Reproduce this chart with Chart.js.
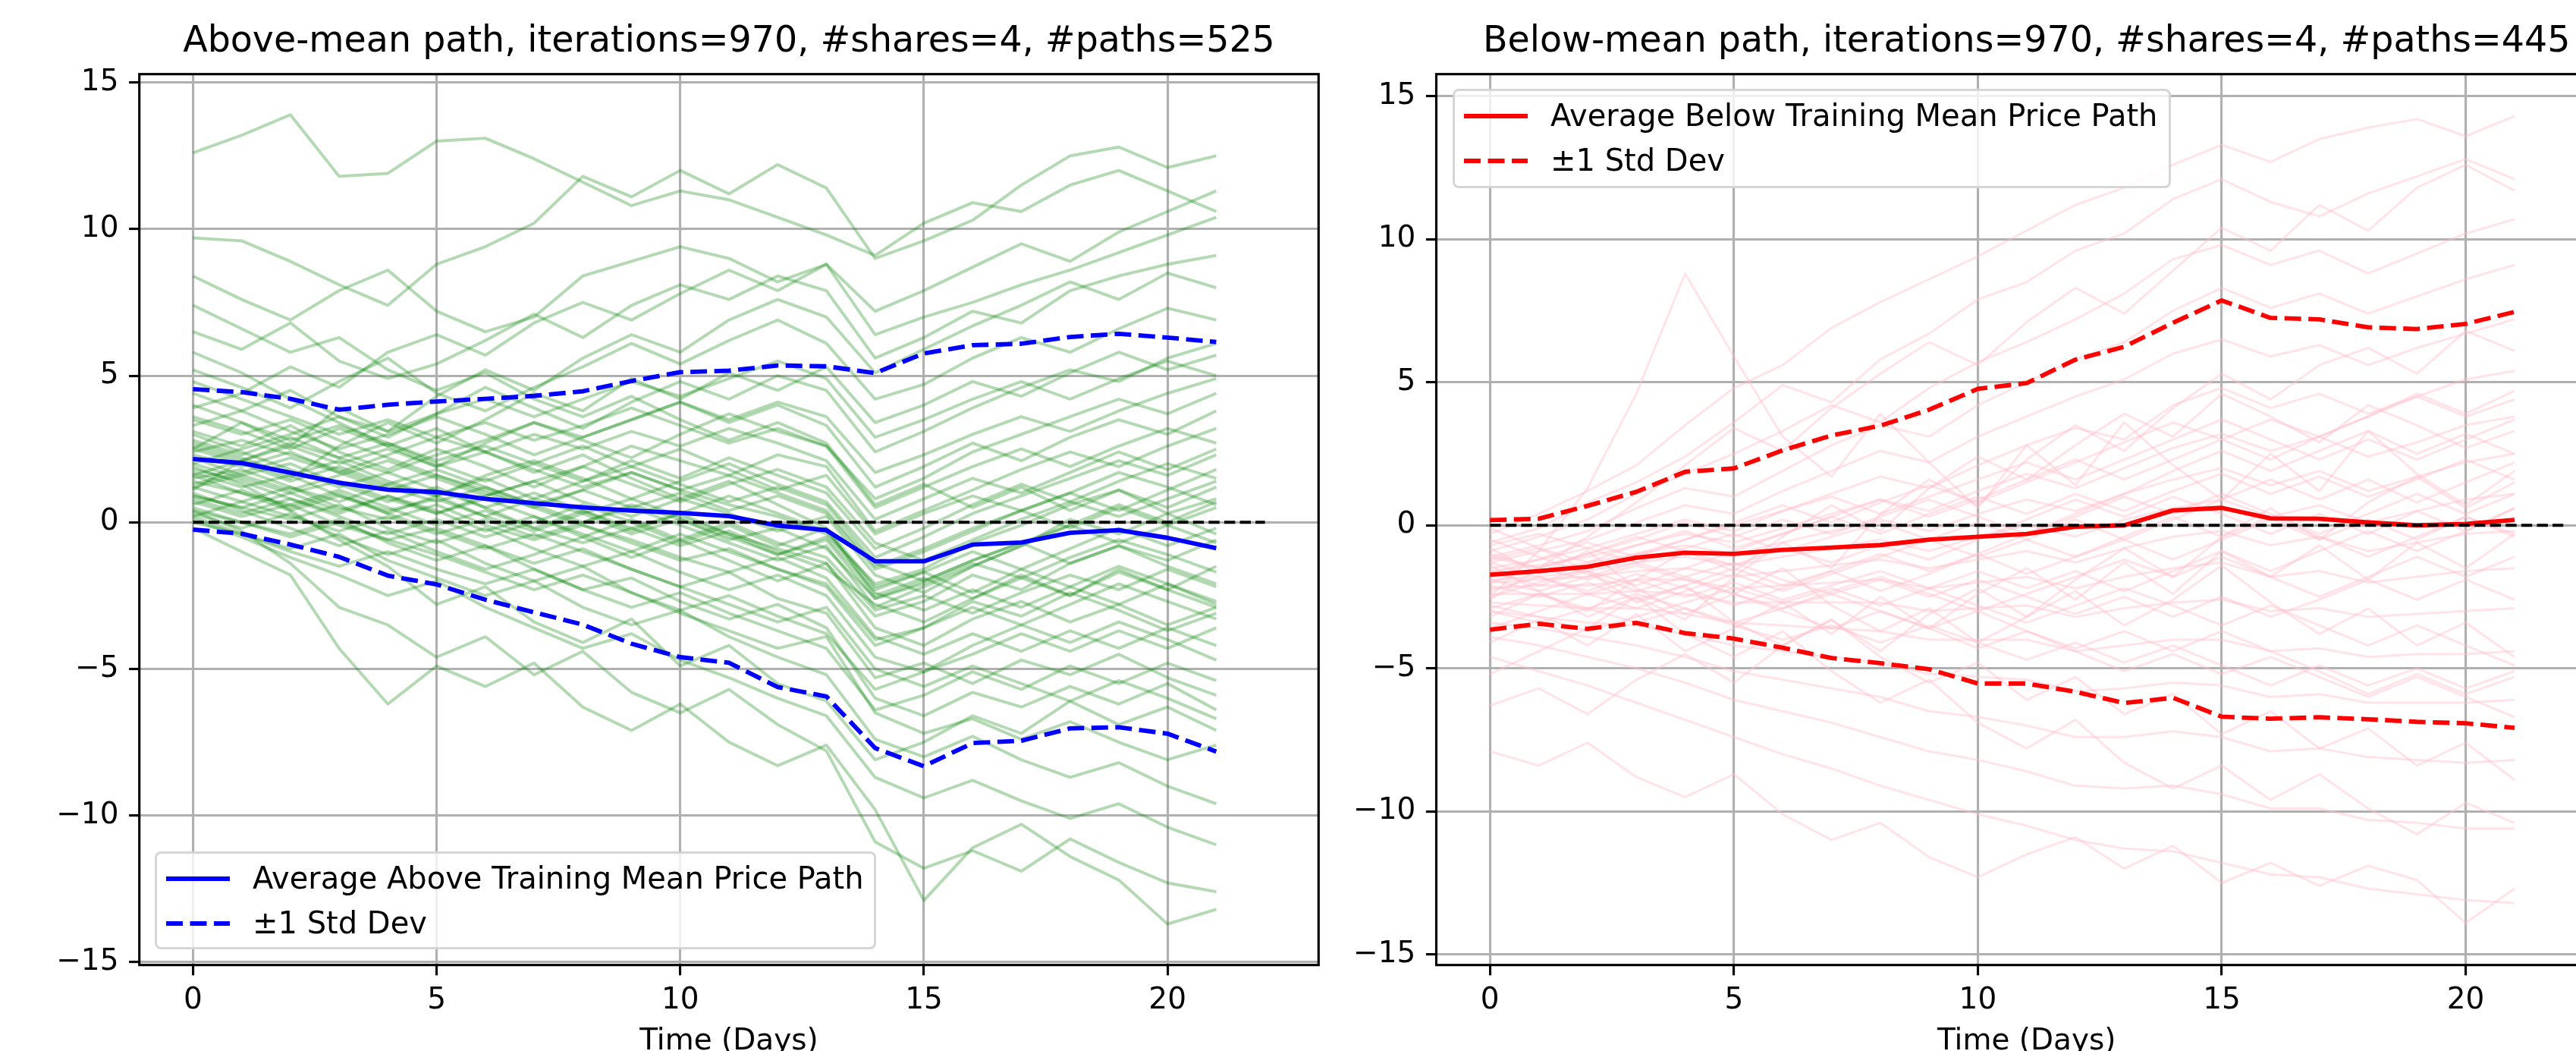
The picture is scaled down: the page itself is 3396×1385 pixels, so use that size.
<!DOCTYPE html>
<html>
<head>
<meta charset="utf-8">
<script src="https://cdn.jsdelivr.net/npm/chart.js@4.4.1/dist/chart.umd.min.js"></script>
<style>
  html, body { margin: 0; padding: 0; width: 3396px; height: 1385px; overflow: hidden; background: #fff; }
  canvas { position: absolute; top: 0; }
  #above { left: 0; }
  #below { left: 1770px; }
  .legend {
    position: absolute; box-sizing: border-box;
    border: 3.5px solid rgba(204, 204, 204, 0.8); border-radius: 8px;
    background: rgba(255, 255, 255, 0.8);
    font-family: "DejaVu Sans"; font-size: 40px; color: #000;
  }
  .legend svg { position: absolute; left: 11px; }
  .legend span { position: absolute; left: 126px; line-height: 47px; white-space: nowrap; }
</style>
</head>
<body>
<canvas id="above" width="1775" height="1440"></canvas>
<canvas id="below" width="1730" height="1440"></canvas>
<div id="aboveLegend" class="legend" style="left:204px; top:1122px; width:951px; height:129px;"></div>
<div id="belowLegend" class="legend" style="left:1915px; top:117px; width:947px; height:131px;"></div>
<script>
// time axis, days 0..21
const days = [0, 1, 2, 3, 4, 5, 6, 7, 8, 9, 10, 11, 12, 13, 14, 15, 16, 17, 18, 19, 20, 21];
const zeroLineX = [0, 22];

// above-mean panel: average path and +/- 1 std dev
const aboveMean = [2.16, 2.02, 1.69, 1.35, 1.11, 1.03, 0.80, 0.65, 0.51, 0.40, 0.32, 0.21, -0.11, -0.27, -1.33, -1.33, -0.76, -0.69, -0.36, -0.27, -0.53, -0.88];
const aboveUpper = [4.54, 4.44, 4.21, 3.84, 4.01, 4.12, 4.21, 4.31, 4.47, 4.82, 5.12, 5.17, 5.35, 5.32, 5.09, 5.76, 6.04, 6.09, 6.32, 6.43, 6.30, 6.15];
const aboveLower = [-0.25, -0.39, -0.76, -1.18, -1.82, -2.12, -2.64, -3.07, -3.49, -4.14, -4.60, -4.79, -5.62, -5.94, -7.70, -8.32, -7.53, -7.45, -7.03, -6.99, -7.21, -7.82];

// below-mean panel
const belowMean = [-1.73, -1.60, -1.45, -1.13, -0.96, -1.00, -0.86, -0.78, -0.69, -0.50, -0.40, -0.30, -0.05, 0.00, 0.52, 0.61, 0.24, 0.23, 0.10, 0.00, 0.05, 0.19];
const belowUpper = [0.18, 0.23, 0.68, 1.17, 1.87, 1.99, 2.62, 3.14, 3.48, 4.04, 4.77, 4.97, 5.79, 6.24, 7.08, 7.86, 7.25, 7.20, 6.92, 6.86, 7.04, 7.46];
const belowLower = [-3.65, -3.44, -3.62, -3.41, -3.77, -3.96, -4.28, -4.64, -4.82, -5.03, -5.53, -5.53, -5.82, -6.21, -6.03, -6.69, -6.76, -6.71, -6.78, -6.87, -6.92, -7.08];

// a sample of the individual simulated paths
const abovePaths = [
  [12.6, 13.2, 13.9, 11.8, 11.9, 13.0, 13.1, 12.4, 11.6, 10.8, 11.3, 11.0, 10.4, 9.8, 9.1, 10.2, 10.9, 10.6, 11.5, 12.0, 11.3, 10.6],
  [9.7, 9.6, 8.9, 8.1, 7.4, 8.8, 9.4, 10.2, 11.8, 11.1, 12.0, 11.2, 12.2, 11.4, 9.0, 9.6, 10.3, 11.5, 12.5, 12.8, 12.1, 12.5],
  [8.4, 7.6, 6.9, 7.9, 8.6, 7.2, 6.5, 7.0, 8.4, 8.9, 9.4, 9.0, 8.2, 8.8, 6.4, 7.0, 7.5, 8.1, 8.6, 9.2, 9.8, 10.4],
  [6.5, 5.9, 6.8, 5.5, 4.9, 5.4, 6.2, 7.1, 6.3, 7.4, 8.1, 7.6, 8.4, 7.9, 5.6, 6.3, 7.2, 6.8, 7.9, 8.4, 8.8, 9.1],
  [5.2, 4.6, 3.9, 4.8, 5.6, 4.4, 3.8, 4.6, 5.3, 6.1, 5.4, 6.2, 6.9, 6.1, 4.2, 4.7, 5.6, 6.3, 5.8, 6.6, 7.3, 6.9],
  [4.4, 3.8, 4.5, 3.6, 2.9, 3.7, 4.6, 3.9, 3.2, 4.1, 4.8, 4.2, 5.0, 4.5, 2.4, 3.1, 3.9, 4.6, 5.2, 4.8, 5.6, 6.1],
  [3.6, 3.1, 2.5, 3.2, 2.6, 1.9, 2.7, 3.4, 2.8, 2.2, 3.0, 3.7, 3.1, 2.6, 0.8, 1.5, 2.4, 3.0, 3.6, 4.2, 3.7, 4.4],
  [3.1, 2.6, 3.3, 2.4, 1.8, 2.5, 1.9, 1.2, 1.9, 2.6, 2.1, 1.6, 2.3, 1.9, -0.3, 0.4, 1.1, 1.8, 2.4, 1.9, 2.6, 3.2],
  [2.7, 2.2, 1.6, 2.1, 1.4, 0.9, 1.6, 2.1, 1.5, 0.8, 1.4, 2.0, 1.3, 0.7, -1.2, -0.5, 0.3, 0.9, 1.5, 2.1, 1.6, 2.3],
  [2.3, 1.9, 2.4, 1.7, 1.1, 1.6, 1.0, 0.5, 1.1, 1.7, 1.1, 0.6, 0.2, -0.4, -2.1, -1.6, -0.7, -0.1, 0.6, 1.1, 0.5, 1.2],
  [2.0, 1.5, 1.0, 1.4, 0.8, 0.3, 0.9, 1.4, 0.7, 0.2, 0.8, 0.3, -0.3, 0.2, -1.8, -2.4, -1.5, -0.8, 0.1, -0.4, 0.3, 0.8],
  [1.7, 1.2, 1.6, 0.9, 0.4, 0.8, 0.2, -0.3, 0.3, 0.8, 0.2, -0.4, -0.9, -1.4, -3.2, -2.7, -1.8, -2.3, -1.4, -0.8, -1.3, -0.6],
  [1.4, 1.0, 0.6, 1.1, 0.5, -0.1, 0.4, -0.2, -0.7, -0.2, -0.8, -0.3, -1.0, -1.6, -2.8, -3.4, -2.6, -1.9, -2.5, -1.7, -2.3, -2.9],
  [1.2, 0.7, 1.2, 0.5, 0.1, 0.6, -0.1, -0.6, -0.1, -0.7, -1.3, -0.9, -1.6, -2.1, -4.0, -3.6, -2.7, -3.2, -2.4, -3.0, -3.7, -3.1],
  [0.9, 0.5, 0.1, 0.6, -0.2, -0.7, -0.2, -0.9, -1.5, -1.0, -1.7, -2.3, -1.8, -2.5, -4.6, -5.1, -4.2, -3.5, -4.1, -3.4, -4.0, -4.7],
  [0.7, 0.2, 0.6, -0.1, -0.6, -0.2, -0.8, -1.4, -0.9, -1.6, -2.2, -1.7, -2.6, -3.1, -5.3, -4.8, -5.5, -4.7, -5.2, -4.5, -5.3, -5.9],
  [0.5, 0.0, -0.4, 0.1, -0.7, -1.3, -0.8, -1.6, -2.3, -1.9, -2.7, -3.3, -2.8, -3.6, -6.0, -6.6, -5.8, -6.3, -5.6, -6.2, -5.5, -6.4],
  [0.3, -0.2, 0.3, -0.5, -1.1, -0.6, -1.4, -2.0, -1.5, -2.4, -3.1, -3.7, -4.3, -3.9, -6.5, -7.2, -6.7, -7.4, -6.8, -7.5, -8.1, -7.6],
  [0.2, -0.4, -0.9, -0.4, -1.3, -1.9, -2.5, -2.0, -2.9, -3.5, -3.0, -3.9, -4.6, -5.2, -7.4, -8.0, -7.3, -8.1, -8.7, -8.2, -9.0, -9.6],
  [0.1, -0.5, -1.2, -1.8, -2.5, -2.0, -2.9, -3.6, -4.3, -3.8, -4.7, -5.3, -6.0, -6.6, -8.7, -9.4, -8.8, -9.5, -10.1, -9.6, -10.4, -11.0],
  [-0.2, -1.0, -1.8, -4.3, -6.2, -4.9, -5.6, -4.8, -6.3, -7.1, -6.2, -7.5, -8.3, -7.6, -9.8, -12.9, -11.1, -10.3, -11.4, -12.2, -13.7, -13.2],
  [0.4, -0.3, -1.4, -2.9, -3.5, -4.6, -3.9, -5.2, -4.4, -5.8, -6.5, -5.7, -6.9, -7.8, -10.9, -11.8, -11.2, -11.9, -10.8, -11.6, -12.3, -12.6],
  [1.9, 1.3, 0.4, -0.6, -1.5, -2.8, -2.2, -3.4, -4.1, -3.3, -4.9, -4.2, -5.5, -6.1, -8.1, -7.5, -6.6, -7.2, -6.1, -6.9, -6.3, -7.1],
  [2.5, 3.4, 2.6, 3.9, 3.1, 4.3, 5.2, 4.5, 5.6, 6.4, 5.8, 6.9, 7.6, 7.0, 5.1, 5.9, 6.7, 7.4, 8.2, 7.6, 8.5, 8.0],
  [1.1, 2.1, 1.5, 2.6, 3.4, 2.7, 3.5, 4.4, 3.8, 4.9, 4.2, 5.1, 4.5, 5.3, 3.4, 4.0, 4.8, 4.3, 5.1, 5.8, 5.2, 5.7],
  [3.9, 4.4, 5.3, 4.6, 5.8, 6.4, 5.7, 6.8, 7.5, 6.9, 7.8, 8.6, 7.9, 8.8, 7.2, 7.9, 8.7, 9.5, 8.9, 9.9, 10.6, 11.3],
  [7.4, 6.6, 5.8, 6.3, 5.2, 4.5, 5.1, 4.2, 3.6, 4.3, 3.5, 2.8, 3.4, 2.7, 0.6, 1.3, 0.5, 1.2, 0.4, 1.1, 0.3, -0.4],
  [5.8, 5.1, 4.2, 3.4, 2.6, 3.2, 2.4, 1.7, 2.3, 1.5, 0.8, 1.4, 0.6, -0.2, -2.5, -1.9, -2.6, -1.8, -2.5, -1.6, -2.3, -1.5],
  [1.5, 1.8, 1.2, 0.7, 1.3, 0.9, 0.2, 0.8, 0.3, -0.4, 0.1, -0.6, -0.2, -0.9, -2.6, -2.1, -1.4, -1.9, -1.2, -0.6, -1.1, -1.7],
  [2.8, 2.3, 2.9, 2.2, 2.7, 2.0, 1.4, 2.0, 2.6, 1.9, 2.5, 1.8, 1.1, 1.6, -0.4, 0.3, 0.9, 0.4, 1.0, 1.7, 1.2, 0.6],
  [0.6, 1.1, 0.5, 1.0, 0.3, 0.9, 1.5, 0.8, 1.4, 2.1, 1.5, 2.2, 1.6, 1.0, -0.9, -0.2, 0.6, 1.3, 0.7, 1.4, 2.0, 1.5],
  [1.0, 0.4, -0.2, -0.8, -0.3, -1.0, -1.6, -1.1, -0.5, -1.2, -0.6, -1.3, -2.0, -1.4, -3.6, -4.2, -3.3, -2.7, -3.4, -2.8, -2.1, -2.7],
  [3.3, 3.8, 3.1, 2.5, 3.0, 3.6, 3.0, 2.3, 2.9, 3.5, 4.1, 3.4, 4.0, 3.3, 1.2, 1.9, 2.7, 2.1, 2.9, 3.5, 3.0, 3.8],
  [1.8, 1.4, 0.8, 0.3, 0.9, 0.4, -0.3, 0.2, -0.5, 0.1, -0.6, 0.0, -0.7, -1.2, -3.0, -2.5, -3.1, -2.4, -1.8, -2.3, -1.6, -2.2],
  [2.5, 2.0, 1.4, 1.9, 1.3, 1.8, 1.2, 0.6, 1.1, 0.5, 1.0, 0.4, 0.9, 0.3, -1.6, -1.0, -0.3, 0.4, -0.2, 0.5, -0.1, -0.7],
  [0.8, 0.3, 0.8, 0.2, -0.4, 0.1, -0.5, 0.0, 0.6, 0.0, -0.7, -0.1, -0.8, -0.2, -2.2, -1.7, -2.4, -1.6, -2.2, -1.5, -2.1, -2.8],
  [4.0, 3.4, 2.8, 3.3, 2.7, 2.1, 2.6, 2.0, 1.4, 1.9, 1.3, 0.7, 1.2, 0.6, -1.4, -2.0, -1.3, -0.7, -1.4, -0.8, -1.5, -2.1],
  [1.3, 1.7, 2.2, 1.7, 2.3, 2.9, 2.4, 3.0, 2.5, 3.1, 2.6, 3.2, 2.7, 2.1, 0.1, 0.8, 1.5, 1.0, 1.7, 2.4, 1.8, 2.5],
  [2.2, 1.6, 2.0, 1.3, 0.7, 1.2, 0.5, -0.2, 0.4, -0.3, 0.3, -0.4, -1.1, -0.5, -2.4, -3.0, -2.3, -2.9, -2.2, -2.8, -3.5, -2.9],
  [0.0, -0.4, -1.0, -1.5, -1.0, -1.6, -2.1, -1.6, -2.3, -2.9, -2.4, -3.1, -3.7, -4.3, -6.4, -5.9, -5.1, -5.7, -4.9, -5.5, -4.8, -5.4],
  [3.0, 2.4, 1.8, 1.2, 1.7, 1.1, 0.5, 1.0, 0.4, -0.2, 0.3, 0.9, 0.3, -0.3, -2.3, -1.7, -1.0, -1.6, -0.9, -0.2, -0.8, -0.2],
  [1.6, 2.1, 2.7, 2.2, 1.7, 2.3, 2.8, 3.4, 2.9, 3.5, 4.1, 3.5, 4.1, 3.6, 1.7, 2.3, 3.0, 3.6, 3.1, 3.8, 4.4, 4.9],
  [2.4, 2.8, 2.3, 1.8, 1.2, 0.7, 1.2, 0.6, 0.0, 0.5, -0.1, -0.7, -1.3, -0.8, -2.9, -2.2, -1.5, -0.8, -0.1, 0.6, 0.0, 0.7],
  [0.4, 0.0, -0.5, 0.0, -0.6, -1.1, -1.7, -2.3, -1.8, -2.4, -3.0, -2.5, -3.2, -3.8, -5.7, -5.1, -4.5, -3.8, -4.4, -3.7, -4.3, -3.6],
  [1.2, 1.6, 1.1, 1.6, 2.1, 1.5, 0.9, 1.4, 1.9, 1.3, 0.7, 1.3, 1.8, 1.2, -0.7, -1.3, -0.6, 0.1, 0.7, 0.2, 0.8, 1.4],
  [3.5, 3.0, 3.5, 2.8, 2.2, 1.6, 1.1, 0.5, -0.1, -0.6, -1.2, -1.7, -1.2, -1.9, -3.9, -4.5, -3.8, -4.4, -3.7, -4.3, -3.6, -4.2],
  [2.0, 2.5, 3.0, 3.6, 3.1, 3.7, 4.2, 3.6, 4.2, 4.8, 4.3, 4.9, 5.5, 4.9, 2.9, 3.5, 4.2, 4.8, 4.2, 4.9, 5.5, 5.0],
  [0.9, 0.5, 1.0, 0.4, 0.9, 0.3, 0.8, 0.2, -0.4, -1.0, -0.4, -1.0, -1.6, -2.2, -4.2, -3.6, -2.9, -3.5, -2.8, -2.1, -2.7, -3.3],
  [4.8, 4.2, 3.6, 3.0, 3.5, 2.9, 3.4, 2.8, 3.3, 3.9, 3.3, 2.7, 3.2, 2.6, 0.5, 1.2, 1.9, 2.5, 1.9, 2.6, 3.2, 2.7],
  [1.6, 1.0, 0.4, 0.9, 0.3, -0.3, -0.9, -0.4, -1.0, -1.6, -2.2, -2.8, -3.4, -2.9, -5.0, -5.6, -4.9, -5.5, -6.1, -5.4, -6.0, -6.7],
  [2.6, 2.1, 2.6, 2.0, 2.5, 1.9, 2.4, 1.8, 1.2, 1.7, 1.1, 1.6, 1.0, 0.4, -1.5, -0.9, -0.2, 0.4, 1.0, 0.4, 1.1, 1.8],
  [0.2, 0.7, 0.2, -0.3, 0.2, -0.4, 0.1, -0.5, 0.0, 0.6, 0.1, -0.5, -1.1, -0.6, -2.6, -2.0, -1.3, -0.7, -0.1, -0.7, -0.1, 0.5]
];

const belowPaths = [
  [-0.3, 0.4, 1.2, 2.1, 3.5, 4.8, 5.6, 6.9, 7.8, 8.6, 9.4, 10.3, 11.2, 11.8, 12.6, 13.3, 12.7, 13.5, 13.9, 14.2, 13.6, 14.3],
  [-0.6, -0.1, 0.8, 1.5, 2.4, 3.6, 4.9, 4.3, 5.8, 6.7, 7.9, 8.5, 9.6, 10.2, 11.4, 12.1, 11.3, 10.8, 11.6, 12.2, 12.8, 12.1],
  [-0.9, -0.4, 0.2, 1.1, 1.8, 2.5, 3.3, 4.2, 3.6, 4.8, 5.7, 6.4, 7.2, 8.1, 9.3, 9.8, 9.1, 9.6, 8.8, 9.5, 10.2, 10.7],
  [-1.1, -0.7, -0.2, 0.6, 1.3, 1.0, 1.9, 2.8, 3.5, 3.1, 4.2, 5.0, 5.8, 6.4, 7.5, 8.3, 7.6, 8.1, 7.4, 8.0, 8.6, 9.1],
  [-1.3, -0.9, -0.5, 0.1, 0.7, 0.4, 1.2, 1.9, 2.6, 2.2, 3.1, 3.8, 4.5, 5.1, 6.0, 6.5, 5.9, 6.3, 5.6, 6.2, 6.7, 7.2],
  [-1.5, -1.2, -0.8, -0.3, 0.2, -0.2, 0.5, 1.1, 1.7, 1.3, 2.1, 2.8, 3.4, 3.0, 4.2, 4.8, 4.1, 4.6, 3.9, 4.5, 5.1, 5.4],
  [-1.6, -1.4, -1.1, -0.7, -0.3, -0.6, -0.1, 0.4, 0.9, 0.5, 1.2, 1.8, 1.3, 2.0, 2.7, 3.2, 2.6, 3.1, 2.4, 2.9, 3.5, 3.8],
  [-1.8, -1.6, -1.3, -1.0, -0.7, -1.0, -0.6, -0.2, 0.2, -0.2, 0.4, 0.9, 0.5, 1.1, 1.6, 2.0, 1.4, 1.9, 1.2, 1.7, 2.2, 2.5],
  [-1.9, -1.8, -1.6, -1.3, -1.1, -1.4, -1.1, -0.8, -0.5, -0.9, -0.4, 0.0, -0.4, 0.2, 0.6, 0.9, 0.3, 0.7, 0.1, 0.5, 0.9, 1.1],
  [-2.0, -1.9, -1.8, -1.6, -1.5, -1.8, -1.6, -1.4, -1.2, -1.5, -1.2, -0.9, -1.3, -0.8, -0.4, -0.2, -0.7, -0.4, -0.9, -0.6, -0.3, -0.2],
  [-2.2, -2.1, -2.1, -1.9, -1.9, -2.2, -2.1, -2.0, -1.9, -2.2, -2.0, -1.8, -2.2, -1.8, -1.5, -1.3, -1.8, -1.6, -2.0, -1.8, -1.6, -1.5],
  [-2.4, -2.4, -2.4, -2.3, -2.4, -2.7, -2.7, -2.7, -2.7, -3.0, -2.9, -2.8, -3.2, -2.9, -2.7, -2.6, -3.0, -2.9, -3.2, -3.1, -3.0, -2.9],
  [-2.7, -2.8, -2.9, -2.9, -3.1, -3.4, -3.5, -3.6, -3.7, -4.0, -4.0, -4.0, -4.4, -4.2, -4.0, -4.0, -4.4, -4.3, -4.6, -4.5, -4.5, -4.4],
  [-3.0, -3.2, -3.4, -3.5, -3.8, -4.2, -4.4, -4.6, -4.8, -5.2, -5.3, -5.4, -5.8, -5.7, -5.5, -5.6, -6.0, -5.9, -6.2, -6.2, -6.2, -6.1],
  [-3.4, -3.6, -3.9, -4.2, -4.6, -5.1, -5.4, -5.7, -6.0, -6.5, -6.7, -7.0, -7.4, -7.4, -7.2, -7.4, -7.9, -7.8, -8.1, -8.2, -8.3, -8.2],
  [-3.9, -4.2, -4.6, -5.0, -5.5, -6.1, -6.5, -6.9, -7.4, -7.9, -8.2, -8.6, -9.1, -9.2, -9.1, -9.4, -9.9, -9.9, -10.3, -10.4, -10.6, -10.6],
  [-4.6, -5.1, -5.6, -6.2, -6.8, -7.4, -8.0, -8.5, -9.1, -9.6, -10.1, -10.5, -11.0, -11.3, -11.4, -11.8, -12.2, -12.3, -12.7, -12.9, -13.1, -13.2],
  [-7.9, -8.4, -7.6, -8.8, -9.5, -8.7, -10.1, -11.0, -10.4, -11.6, -12.3, -11.5, -10.9, -12.0, -11.2, -12.5, -11.8, -12.6, -11.9, -12.4, -13.9, -12.7],
  [-5.2, -4.4, -3.6, -2.5, -3.3, -1.8, -0.6, -1.5, 0.4, 1.6, 0.7, 2.3, 3.5, 2.6, 4.1, 5.3, 4.4, 5.6, 6.2, 5.3, 6.8, 6.1],
  [-0.1, -0.8, -1.6, -2.7, -2.1, -3.4, -4.2, -3.3, -4.6, -5.5, -4.8, -6.1, -5.3, -6.6, -5.9, -7.3, -6.5, -7.8, -7.1, -8.4, -7.6, -8.9],
  [-3.2, -2.4, -3.0, -1.9, -0.9, -1.6, -0.4, 0.7, -0.2, 1.3, 2.4, 1.6, 2.8, 3.9, 3.1, 4.6, 3.8, 2.9, 4.2, 3.5, 2.7, 3.3],
  [-0.8, -1.7, -0.9, -2.2, -3.1, -2.4, -1.5, -2.8, -3.7, -2.9, -4.1, -3.2, -2.3, -3.5, -2.6, -1.4, -2.7, -3.8, -2.9, -4.2, -3.4, -4.6],
  [-2.6, -1.5, -0.4, 0.8, 2.1, 3.4, 2.6, 4.1, 5.3, 6.4, 5.6, 7.1, 8.3, 7.4, 8.9, 10.4, 9.6, 11.2, 10.3, 11.8, 12.6, 11.7],
  [-4.1, -3.3, -4.2, -3.1, -4.4, -3.6, -2.7, -3.8, -2.5, -3.6, -2.4, -1.5, -2.6, -1.3, -2.4, -0.9, -1.8, -0.7, -1.9, -0.6, -1.5, -0.3],
  [-1.4, -2.3, -3.2, -2.5, -3.8, -4.6, -3.7, -5.1, -6.2, -5.4, -6.9, -7.8, -6.8, -8.3, -9.2, -8.4, -9.6, -8.7, -9.9, -10.8, -9.7, -10.4],
  [-6.3, -5.7, -6.6, -5.4, -4.5, -5.5, -4.2, -3.3, -4.4, -3.1, -2.2, -3.2, -1.9, -0.8, -1.8, -0.4, 0.6, -0.5, 0.8, 1.7, 0.6, 1.5],
  [-2.5, -0.9, 1.3, 4.6, 8.8, 5.9, 3.1, 1.7, 3.9, 2.2, 0.6, 2.8, 1.4, 3.6, 2.1, 0.9, 2.5, 1.2, 3.3, 1.8, 0.7, 1.9],
  [-1.2, -0.8, -1.3, -0.7, -0.2, -0.8, -0.3, 0.3, -0.3, 0.4, 1.0, 0.4, 1.1, 0.5, 1.2, 1.8, 1.1, 1.7, 1.0, 1.6, 2.3, 1.6],
  [-2.1, -2.5, -2.0, -2.6, -2.1, -1.5, -2.1, -1.6, -2.3, -1.7, -1.0, -1.7, -1.1, -0.4, 0.3, -0.4, 0.3, -0.4, -1.1, -0.4, 0.3, -0.3],
  [-1.7, -1.2, -0.6, -1.1, -0.5, 0.1, 0.7, 0.1, 0.8, 1.4, 0.8, 1.5, 2.2, 2.9, 3.6, 3.0, 3.7, 3.1, 3.8, 4.5, 3.8, 4.4],
  [-2.9, -2.4, -2.9, -3.4, -2.9, -3.5, -4.0, -3.5, -4.1, -3.5, -4.1, -4.7, -4.1, -4.8, -4.2, -4.9, -5.6, -4.9, -5.6, -5.0, -5.7, -5.1],
  [-1.0, -1.5, -1.0, -0.4, -0.9, -1.4, -0.8, -1.3, -0.7, -1.2, -0.5, 0.2, 0.9, 0.3, 1.0, 0.4, -0.3, 0.4, -0.3, 0.5, -0.2, 0.6],
  [-2.3, -1.8, -2.3, -1.7, -2.2, -2.8, -2.2, -1.6, -1.0, -1.6, -1.0, -0.3, 0.4, 1.1, 1.9, 2.6, 1.9, 2.6, 3.3, 2.5, 3.2, 2.5],
  [-0.5, -1.1, -1.7, -2.3, -1.8, -2.4, -3.0, -3.6, -3.0, -3.6, -4.3, -3.7, -4.4, -5.1, -4.5, -5.2, -4.6, -5.3, -6.0, -5.3, -6.0, -6.7],
  [-3.6, -3.0, -2.4, -2.9, -2.3, -1.7, -2.3, -1.7, -1.1, -0.5, -1.1, -0.5, 0.2, -0.5, 0.2, 0.9, 1.6, 0.9, 1.6, 0.8, 1.5, 2.2],
  [-1.9, -2.3, -1.8, -1.3, -1.8, -1.3, -1.9, -2.4, -1.9, -2.5, -1.9, -2.5, -3.1, -2.5, -3.2, -2.5, -3.2, -2.6, -1.9, -2.6, -1.9, -2.6],
  [-1.3, -1.8, -2.4, -1.9, -2.5, -2.0, -2.6, -2.1, -1.6, -2.2, -2.8, -3.4, -2.8, -2.2, -2.8, -3.5, -2.8, -3.5, -4.2, -3.5, -4.2, -4.9],
  [-2.5, -2.0, -1.5, -1.0, -0.5, 0.0, 0.5, 1.0, 0.4, 1.0, 1.6, 2.2, 1.6, 2.3, 3.0, 3.7, 3.0, 2.3, 3.0, 2.3, 3.0, 3.7],
  [-0.7, -0.3, -0.8, -1.3, -0.8, -0.3, -0.9, -0.4, 0.1, -0.5, 0.1, -0.5, -1.1, -0.5, -1.2, -0.5, 0.2, -0.5, 0.2, -0.5, 0.3, -0.4],
  [-3.0, -3.4, -2.9, -2.4, -2.9, -3.4, -2.9, -2.3, -1.8, -2.4, -3.0, -2.4, -1.8, -1.2, -1.8, -1.1, -1.8, -2.5, -1.8, -1.1, -1.8, -1.1],
  [-1.6, -2.1, -1.6, -2.1, -1.5, -0.9, -0.3, 0.3, 0.9, 0.3, 0.9, 1.6, 2.3, 1.6, 2.3, 3.0, 2.3, 3.1, 3.8, 4.6, 3.9, 4.7],
  [-2.0, -1.5, -1.9, -1.4, -1.9, -2.4, -2.9, -2.4, -3.0, -3.6, -3.0, -3.7, -4.3, -3.7, -4.4, -3.7, -4.4, -5.1, -5.9, -5.2, -5.9, -5.3],
  [-1.1, -1.5, -1.0, -0.5, 0.1, -0.4, 0.2, -0.3, 0.3, 0.9, 0.3, -0.3, 0.3, 1.0, 0.4, 1.1, 0.4, -0.3, 0.4, 1.1, 0.4, 1.1],
  [-2.8, -3.2, -3.7, -3.2, -2.7, -2.2, -2.7, -2.2, -2.8, -2.2, -1.6, -2.2, -1.6, -2.3, -1.6, -0.9, -1.6, -0.9, -0.2, -0.9, -0.2, 0.6]
];

Chart.defaults.font.family = 'DejaVu Sans';
Chart.defaults.color = '#000';

const PX_PER_PT = 3.89;
const meanDash = [22, 9.5];
const zeroDash = [14.4, 6.2];

function series(values, label, color, width, dash, order) {
  return {
    label: label,
    data: days.map((d, i) => ({ x: d, y: values[i] })),
    borderColor: color,
    borderWidth: width,
    borderDash: dash,
    borderJoinStyle: 'round',
    pointRadius: 0,
    tension: 0,
    fill: false,
    order: order
  };
}

// the four spines, like matplotlib
const spines = {
  id: 'spines',
  afterDatasetsDraw(chart) {
    const { ctx, chartArea: a } = chart;
    ctx.save();
    ctx.strokeStyle = '#000';
    ctx.lineWidth = 0.8 * PX_PER_PT;
    ctx.strokeRect(a.left, a.top, a.right - a.left, a.bottom - a.top);
    ctx.restore();
  }
};

function makeChart(id, p) {
  const datasets = [];
  p.paths.forEach(path => datasets.push(series(path, '', p.pathColor, p.pathWidth, [], 3)));
  datasets.push(series(p.mean, p.meanLabel, p.color, 1.5 * PX_PER_PT, [], 1));
  datasets.push(series(p.upper, '\u00b11 Std Dev', p.color, 1.5 * PX_PER_PT, meanDash, 2));
  datasets.push(series(p.lower, '', p.color, 1.5 * PX_PER_PT, meanDash, 2));
  datasets.push({
    label: '',
    data: zeroLineX.map(x => ({ x: x, y: 0 })),
    borderColor: '#000', borderWidth: 1.0 * PX_PER_PT, borderDash: zeroDash,
    pointRadius: 0, fill: false, order: 0
  });

  const tickFont = { size: 39 };
  return new Chart(document.getElementById(id), {
    type: 'line',
    data: { datasets },
    options: {
      responsive: false,
      animation: false,
      events: [],
      layout: { padding: { left: 0, top: 0, right: p.padRight, bottom: 0 } },
      plugins: {
        legend: { display: false },
        tooltip: { enabled: false },
        title: {
          display: true, fullSize: false, text: p.title,
          font: { size: 47.5, weight: 'normal', lineHeight: 1.2 },
          padding: { top: 27, bottom: 13.7 }
        }
      },
      scales: {
        x: {
          type: 'linear', min: -1.1, max: 23.1,
          border: { display: false },
          grid: { color: '#b0b0b0', lineWidth: 0.8 * PX_PER_PT, tickColor: '#000', tickWidth: 0.8 * PX_PER_PT, tickLength: 13.6 },
          ticks: { stepSize: 5, includeBounds: false, font: tickFont, padding: 9.8, maxRotation: 0 },
          title: { display: true, text: 'Time (Days)', font: { size: 39, lineHeight: 1.2 }, padding: { top: 0, bottom: 43.8 } },
          afterFit: s => { s.height = 1440 - 1271.7; }
        },
        y: {
          type: 'linear', min: p.yMin, max: p.yMax,
          border: { display: false },
          grid: { color: '#b0b0b0', lineWidth: 0.8 * PX_PER_PT, tickColor: '#000', tickWidth: 0.8 * PX_PER_PT, tickLength: 13.6 },
          ticks: { stepSize: 5, includeBounds: false, font: tickFont, padding: 13.6,
                   callback: v => String(v).replace('-', '\u2212') },
          afterFit: s => { s.width = p.axisWidth; }
        }
      }
    },
    plugins: [spines]
  });
}

function buildLegend(chart, elId) {
  const el = document.getElementById(elId);
  const rows = [32.5, 91.5];
  chart.data.datasets.filter(ds => ds.label).forEach((ds, i) => {
    const dash = ds.borderDash && ds.borderDash.length ? ds.borderDash.join(' ') : 'none';
    const svg = '<svg width="86" height="14" style="top:' + (rows[i] - 7) + 'px">' +
      '<line x1="1" y1="7" x2="85" y2="7" stroke="' + ds.borderColor + '" stroke-width="' + ds.borderWidth +
      '" stroke-dasharray="' + dash + '"/></svg>';
    el.insertAdjacentHTML('beforeend', svg + '<span style="top:' + (rows[i] - 23.5) + 'px">' + ds.label + '</span>');
  });
}

const aboveChart = makeChart('above', {
  title: 'Above-mean path, iterations=970, #shares=4, #paths=525',
  paths: abovePaths, pathColor: 'rgba(0, 128, 0, 0.3)', pathWidth: 3.9,
  mean: aboveMean, upper: aboveUpper, lower: aboveLower,
  color: '#0000ff', meanLabel: 'Average Above Training Mean Price Path',
  yMin: -15.10, yMax: 15.285, axisWidth: 183.7, padRight: 1775 - 1738.3
});

const belowChart = makeChart('below', {
  title: 'Below-mean path, iterations=970, #shares=4, #paths=445',
  paths: belowPaths, pathColor: 'rgba(255, 192, 203, 0.45)', pathWidth: 3,
  mean: belowMean, upper: belowUpper, lower: belowLower,
  color: '#ff0000', meanLabel: 'Average Below Training Mean Price Path',
  yMin: -15.37, yMax: 15.77, axisWidth: 1893.5 - 1770, padRight: 50
});

buildLegend(aboveChart, 'aboveLegend');
buildLegend(belowChart, 'belowLegend');
</script>
</body>
</html>
